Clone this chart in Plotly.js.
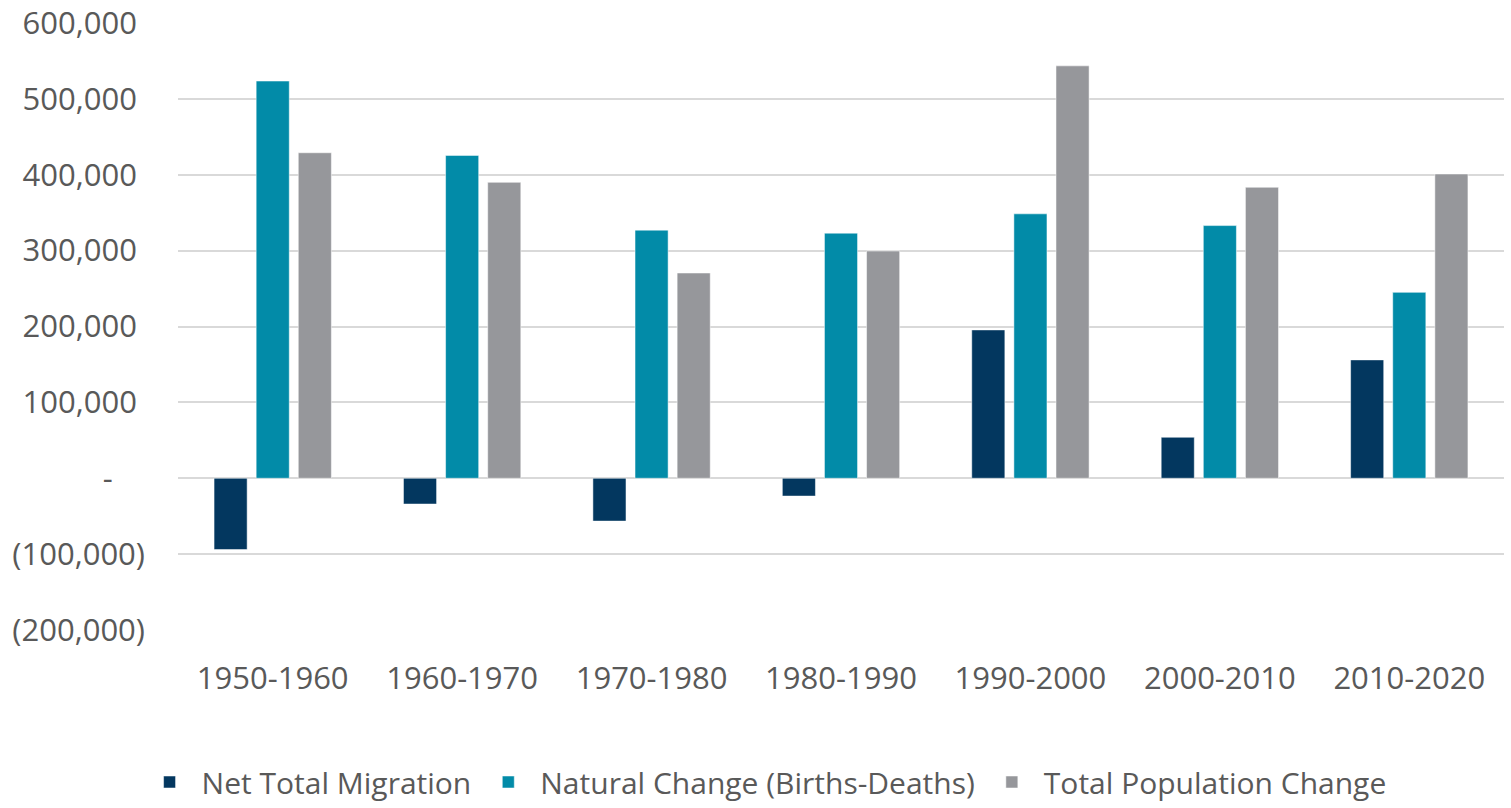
<!DOCTYPE html>
<html>
<head>
<meta charset="utf-8">
<script src="https://cdn.plot.ly/plotly-3.0.1.min.js"></script>
<style>html,body{margin:0;padding:0;background:#fff;}#chart{width:1511px;height:808px;}</style>
</head>
<body>
<div id="chart"></div>
<script>
const categories = ["1950-1960","1960-1970","1970-1980","1980-1990","1990-2000","2000-2010","2010-2020"];
const netMigration = [-94000, -34000, -56500, -23500, 195500, 54000, 156000];
const naturalChange = [523500, 425500, 327000, 323000, 348500, 333000, 245000];
const totalChange = [429000, 390000, 270500, 299500, 543500, 383500, 401000];
const tickVals = [600000, 500000, 400000, 300000, 200000, 100000, 0, -100000, -200000];
const tickText = ["600,000\u00a0","500,000\u00a0","400,000\u00a0","300,000\u00a0","200,000\u00a0","100,000\u00a0","-\u00a0\u00a0\u00a0\u00a0","(100,000)","(200,000)"];

const font = "Open Sans, sans-serif";
const textColor = "#595959";
const mk = (name, y, color) => ({
  type: "bar", name: name, x: categories, y: y,
  marker: {color: color, line: {color: "rgba(255,255,255,0.5)", width: 1}},
  hoverinfo: "x+y+name"
});
const data = [
  mk("Net Total Migration", netMigration, "#03375f"),
  mk("Natural Change (Births-Deaths)", naturalChange, "#028ba8"),
  mk("Total Population Change", totalChange, "#96979b")
];
const layout = {
  width: 1511, height: 808,
  margin: {l: 178, r: 7, t: 23, b: 178, pad: 0},
  paper_bgcolor: "#ffffff", plot_bgcolor: "#ffffff",
  font: {family: font, color: textColor, size: 31},
  barmode: "group", bargap: 0.333, bargroupgap: 0.214,
  xaxis: {
    type: "category", showgrid: false, zeroline: false, showline: false,
    ticks: "", ticklabelstandoff: 27,
    tickfont: {family: font, size: 31, color: textColor}
  },
  yaxis: {
    range: [-200000, 600000], tickmode: "array", tickvals: tickVals, ticktext: tickText,
    showgrid: true, gridcolor: "#d9d9d9", gridwidth: 2,
    zeroline: true, zerolinecolor: "#d9d9d9", zerolinewidth: 2,
    showline: false, ticks: "", ticklabelstandoff: 32,
    tickfont: {family: font, size: 31, color: textColor}
  },
  showlegend: true,
  legend: {
    orientation: "h", xref: "container", yref: "container",
    x: 0.506, xanchor: "center", y: 0.0, yanchor: "bottom",
    font: {family: font, size: 30, color: textColor},
    itemwidth: 54, tracegroupgap: 0
  }
};
Plotly.newPlot("chart", data, layout, {displayModeBar: false, responsive: false});
</script>
</body>
</html>
